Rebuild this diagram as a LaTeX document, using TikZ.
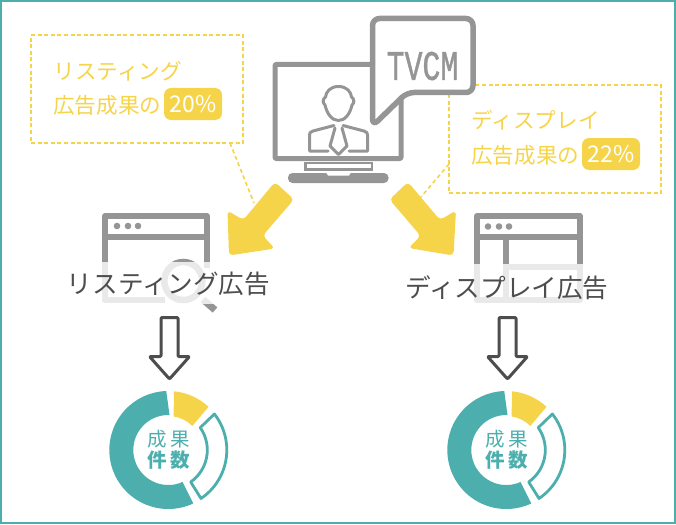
\documentclass[tikz,border=0pt]{standalone}
\usetikzlibrary{calc}
\usepackage{fontspec}
\setmainfont{Liberation Sans}
\newfontfamily\tvfont[FakeBold=1.2]{Liberation Mono}
\newfontfamily\jp{Noto Sans CJK JP}
\definecolor{teal1}{HTML}{4DAFAD}
\definecolor{yel}{HTML}{F6D44A}
\definecolor{gr}{HTML}{959595}
\definecolor{dk}{HTML}{4D4D4D}
\tikzset{
  ico/.style={draw=gr,line width=5pt,line join=round},
  thin ico/.style={draw=gr,line width=3pt,line join=round,line cap=round},
  dbox/.style={draw=yel,line width=2pt,dash pattern=on 4pt off 2.6pt},
  dlink/.style={draw=yel,line width=1.6pt,dash pattern=on 4pt off 3pt},
  ybig/.style={fill=yel,rounded corners=4pt},
  pill/.style={fill=yel,rounded corners=7pt,minimum width=58pt,minimum height=32pt,inner sep=0pt,text=white,font=\jp\fontsize{23}{23}\selectfont},
  ytext/.style={text=yel,font=\jp\fontsize{21.6}{22}\selectfont,inner sep=0pt},
  lab/.style={text=dk,font=\jp\fontsize{25.6}{26}\selectfont,inner sep=0pt},
  don/.style={text=teal1,font=\jp\fontsize{19.5}{20}\selectfont,inner sep=0pt},
  donb/.style={text=teal1,font=\jp\bfseries\fontsize{19.5}{20}\selectfont,inner sep=0pt},
  downar/.style={draw=dk,line width=3pt,fill=white,line join=round},
  veil/.style={fill=white,fill opacity=.8},
}
\begin{document}
\begin{tikzpicture}[x=1pt,y=-1pt]
\useasboundingbox (0,0) rectangle (676,524);
\draw[teal1,line width=2pt] (1,1) rectangle (675,523);

% annotation boxes and their links
\node[dbox,minimum width=212pt,minimum height=108pt,inner sep=0pt] (boxL) at (137,89) {};
\node[dbox,minimum width=212pt,minimum height=108pt,inner sep=0pt] (boxR) at (555,139) {};
\coordinate (linkLa) at (230,143); \coordinate (linkLb) at (254,203);
\coordinate (linkRa) at (449,164); \coordinate (linkRb) at (421,197);
\draw[dlink] (linkLa) -- (linkLb);
\draw[dlink] (linkRa) -- (linkRb);
\node[ytext,anchor=west] (t1) at (53.5,71) {リスティング};
\node[ytext,anchor=west] (t2) at (53,105) {広告成果の};
\node[pill] (p1) at (193,104) {20\%};
\node[ytext,anchor=west] (t3) at (471.5,120.5) {ディスプレイ};
\node[ytext,anchor=west] (t4) at (471,155) {広告成果の};
\node[pill] (p2) at (611,154) {22\%};

% monitor
\draw[ico,rounded corners=1pt] (275,64.5) rectangle (401,158.5);
\draw[draw=gr,line width=2.6pt] (305.5,163) rectangle (372,169.5);
\fill[gr,rounded corners=4.5pt] (288,173) rectangle (388.5,183);
\fill[white] (326,172.5) -- (351,172.5) -- (349,175.5) -- (328,175.5) -- cycle;
% person
\draw[thin ico] (338.5,86.5) .. controls (347,86.5) and (351,92) .. (351.5,97)
  .. controls (354.5,99) and (354.5,103) .. (352,105)
  .. controls (350,114) and (345,120.5) .. (338.5,120.5)
  .. controls (332,120.5) and (327,114) .. (325,105)
  .. controls (322.5,103) and (322.5,99) .. (325.5,97)
  .. controls (326,92) and (330,86.5) .. (338.5,86.5) -- cycle;
\draw[thin ico] (334,125.5) -- (313,131) .. controls (310,132) and (309.5,133) .. (309.5,135) -- (309.5,151) -- (328,151);
\draw[thin ico] (343,125.5) -- (364,131) .. controls (367,132) and (367.5,133) .. (367.5,135) -- (367.5,151) -- (349,151);
\draw[thin ico] (335,128) -- (330,146) -- (338.5,154.5) -- (347,146) -- (342,128);
% bubble
\draw[ico,line width=5.5pt,fill=white,rounded corners=7pt] (372.5,18.5) -- (473,18.5) -- (473,92.5) -- (407,92.5) -- (372.5,126) -- cycle;
\node[text=gr,inner sep=0pt] (tvcm) at (422.5,66) {\tvfont\fontsize{42}{42}\selectfont\scalebox{.71}[1]{TVCM}};

% yellow arrows
\fill[ybig] (275,182) -- (294,199.5) -- (262.7,235.7) -- (275,248.5) -- (229,255.5) -- (227.5,210.5) -- (243.3,220) -- cycle;
\fill[ybig] (408,182) -- (389.5,199.5) -- (420.7,236) -- (408.5,248) -- (453.5,255.5) -- (456,210.5) -- (440,220) -- cycle;

% left window
\draw[ico,line width=6pt] (105,268) -- (105,216) -- (207,216) -- (207,268);
\draw[ico,line width=6pt] (105,236.5) -- (207,236.5);
\draw[ico,line width=6pt] (105,262) -- (105,300) -- (165,300);
\foreach \x in {117,128,138} \fill[gr] (\x,226) circle (3.3pt);
\draw[draw=gr,line width=6.5pt,fill=white] (183.3,281) circle (19pt);
\draw[draw=gr,line width=7pt] (203,299.5) -- (215,310);
\fill[veil] (95,262) rectangle (232,303.5);
\node[lab] (labL) at (168.5,284) {リスティング広告};

% right window
\draw[ico,line width=6pt] (477,268) -- (477,216) -- (580,216) -- (580,268);
\draw[ico,line width=6pt] (477,236.5) -- (580,236.5);
\draw[ico,line width=6pt] (506,236.5) -- (506,300);
\draw[ico,line width=6pt] (506,267) -- (580,267);
\draw[ico,line width=6pt] (477,262) -- (477,300) -- (580,300) -- (580,262);
\foreach \x in {488,499,509} \fill[gr] (\x,226.5) circle (3.3pt);
\fill[veil] (470,264) rectangle (587,303.5);
\node[lab] (labR) at (507,287.5) {ディスプレイ広告};

% down arrows and donuts
\foreach \cx/\nm in {169.5/L,507.5/R}{
  \begin{scope}[shift={(\cx,0)}]
    \draw[downar,rounded corners=1pt] (-8.5,317.5) -- (8.5,317.5) -- (8.5,356.5) -- (20,356.5) -- (0,379) -- (-20,356.5) -- (-8.5,356.5) -- cycle;
    \coordinate (c\nm) at (-1.2,450);
    \fill[teal1] ($(c\nm)+(92:59pt)$) arc[start angle=92,end angle=295,radius=59pt] -- ($(c\nm)+(-66:35pt)$) arc[start angle=294,end angle=88,radius=35pt] -- cycle;
    \fill[yel] ($(c\nm)+(84.5:59pt)$) arc[start angle=84.5,end angle=47,radius=59pt] -- ($(c\nm)+(45:34pt)$) arc[start angle=45,end angle=81,radius=34pt] -- cycle;
    \draw[teal1,line width=2.8pt,line join=round,fill=white] ($(c\nm)+(38:58.5pt)$) arc[start angle=38,end angle=-56,radius=58.5pt] -- ($(c\nm)+(-55:39pt)$) arc[start angle=-55,end angle=35,radius=39pt] -- cycle;
    \node[don] at (-12.5,439.5) {成};
    \node[don] at (10.5,439.5) {果};
    \node[donb] at (-12.5,460.5) {件};
    \node[donb] at (10.5,460.5) {数};
  \end{scope}
}
\end{tikzpicture}
\end{document}
